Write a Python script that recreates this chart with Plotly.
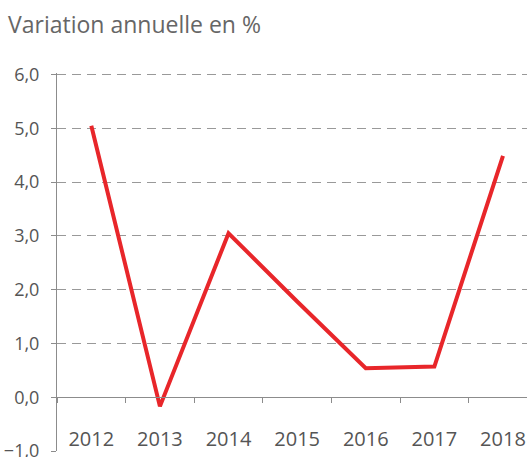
import plotly.graph_objects as go

years = ["2012", "2013", "2014", "2015", "2016", "2017", "2018"]
values = [5.05, -0.17, 3.05, 1.78, 0.54, 0.57, 4.49]

y_ticks = [-1, 0, 1, 2, 3, 4, 5, 6]

fig = go.Figure()
fig.add_trace(go.Scatter(
    x=years, y=values, mode="lines",
    line=dict(color="#e8262a", width=4),
    hoverinfo="x+y",
))

y_min, y_max = -1, 6.03
axis_grey = "#8c8c8c"
fig.update_layout(
    template="none",
    width=527, height=457,
    margin=dict(l=57, r=0, t=73, b=6, autoexpand=False),
    paper_bgcolor="white", plot_bgcolor="white",
    separators=", ",
    showlegend=False,
    title=dict(
        text="Variation annuelle en %",
        x=8 / 527, xref="container", xanchor="left",
        y=1 - 17 / 457, yref="container", yanchor="top",
        font=dict(family="Open Sans, sans-serif", size=23, color="#666666"),
    ),
    xaxis=dict(
        type="category", categoryorder="array", categoryarray=years,
        range=[-0.5, 6.35],
        anchor="free", position=(0 - y_min) / (y_max - y_min),
        automargin=False,
        showline=True, linecolor=axis_grey, linewidth=1,
        ticks="outside", ticklen=5, tickcolor=axis_grey, tickwidth=1,
        tickson="boundaries",
        showgrid=False, zeroline=False,
        ticklabelstandoff=24,
        tickfont=dict(family="Open Sans, sans-serif", size=20, color="#555555"),
    ),
    yaxis=dict(
        range=[y_min, y_max], tickvals=y_ticks, tickformat=".1f",
        automargin=False,
        showline=True, linecolor=axis_grey, linewidth=1,
        ticks="outside", ticklen=5, tickcolor=axis_grey, tickwidth=1,
        showgrid=True, gridcolor="#999999", gridwidth=1, griddash="9px,6px",
        zeroline=False,
        ticklabelstandoff=8,
        ticklabeloverflow="allow",
        tickfont=dict(family="Open Sans, sans-serif", size=18, color="#555555"),
    ),
)

fig.write_html(
    "out.html",
    config={"displayModeBar": False},
    post_script="document.body.style.margin='0';",
)
